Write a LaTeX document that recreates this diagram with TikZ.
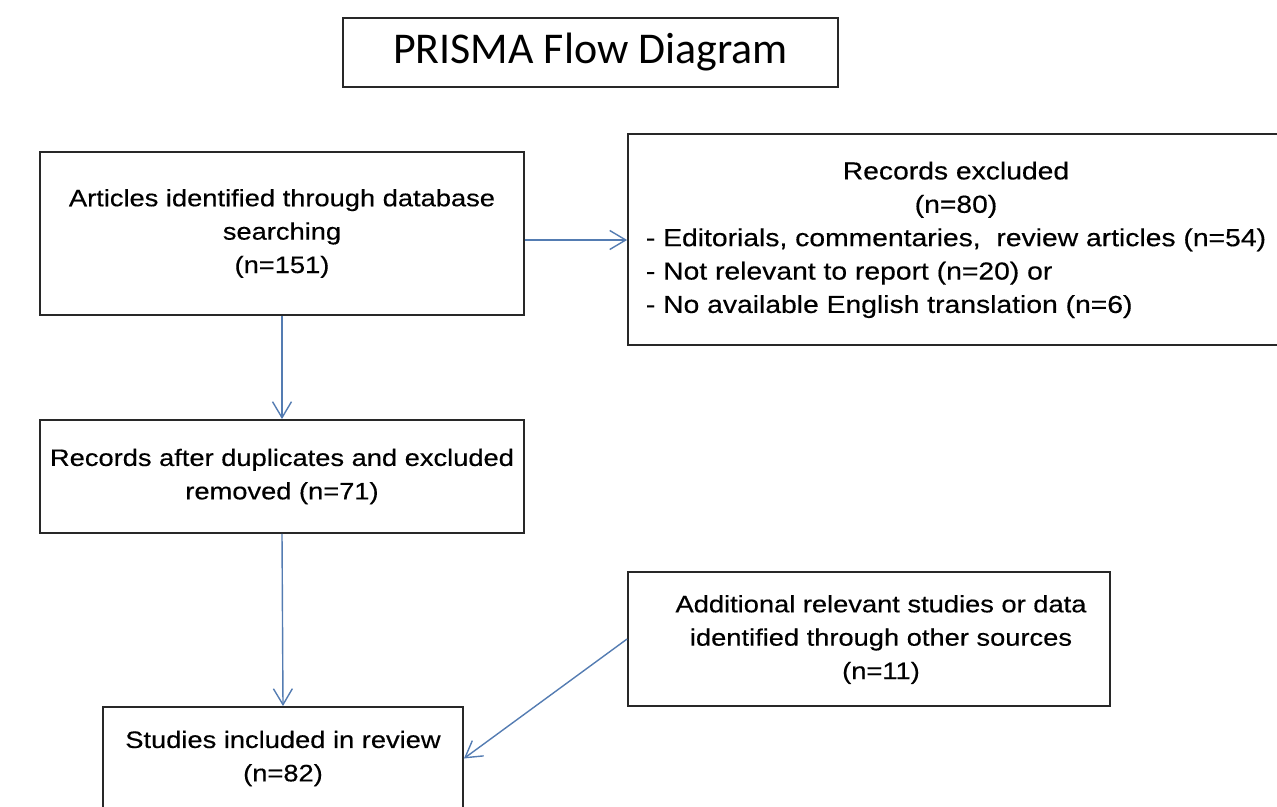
\documentclass[tikz,border=0pt]{standalone}
\usepackage{fontspec}
\setmainfont[FakeStretch=1.15, FakeBold=0.4]{Liberation Sans}
\newfontfamily\titlefont{Carlito}
\usepackage{tikz}
\usetikzlibrary{arrows.meta, positioning}
\usepackage{xcolor}
\definecolor{flowblue}{RGB}{84,124,178}
\definecolor{boxline}{RGB}{40,40,40}

\tikzset{
  box/.style={draw=boxline, line width=1.1pt, inner sep=0pt, align=center,
    font=\fontsize{13.5}{19}\selectfont},
  flow/.style={draw=flowblue, line width=0.8pt,
    -{Straight Barb[length=0.32cm, width=0.38cm, line width=0.8pt]}}
}

\begin{document}
\begin{tikzpicture}[x=0.02cm,y=-0.02cm]
        \useasboundingbox (0,0) rectangle (1277,807);
        \clip (0,0) rectangle (1277,807);

        \node[box, minimum width=9.9cm, minimum height=1.38cm,
              font=\titlefont\fontsize{25}{29}\selectfont] (title) at (590.5,52.5) {PRISMA Flow Diagram};

        \node[box, minimum width=9.68cm, minimum height=3.26cm] (ident) at (282,233.5)
            {Articles identified through database\\searching\\(n=151)};
        \node[box, minimum width=13.12cm, minimum height=4.22cm,
              font=\fontsize{14}{19}\selectfont] (excl) at (956,239.5)
            {\begin{tabular}{@{}l@{}}
              \multicolumn{1}{c}{Records excluded}\\
              \multicolumn{1}{c}{(n=80)}\\
              - Editorials, commentaries,\ \ review articles (n=54)\\
              - Not relevant to report (n=20) or\\
              - No available English translation (n=6)
            \end{tabular}};
        \node[box, minimum width=9.68cm, minimum height=2.26cm] (dedup) at (282,476.5)
            {Records after duplicates and excluded\\removed (n=71)};
        \node[box, minimum width=9.64cm, minimum height=2.68cm] (other) at (869,639)
            {\begin{tabular}{@{\hspace{0.48cm}}c@{}}
              Additional relevant studies or data\\
              identified through other sources\\
              (n=11)
            \end{tabular}};
        \node[box, minimum width=7.2cm, minimum height=2.06cm] (incl) at (283,758.5)
            {Studies included in review\\(n=82)};

        \draw[flow] ([yshift=-0.13cm]ident.east) -- ([yshift=-0.13cm]ident.east -| excl.west);
        \draw[flow] (ident.south) -- (dedup.north);
        \draw[flow] (dedup.south) -- (incl.north);
        \draw[flow] (other.west) -- (incl.east);

    \end{tikzpicture}
\end{document}
